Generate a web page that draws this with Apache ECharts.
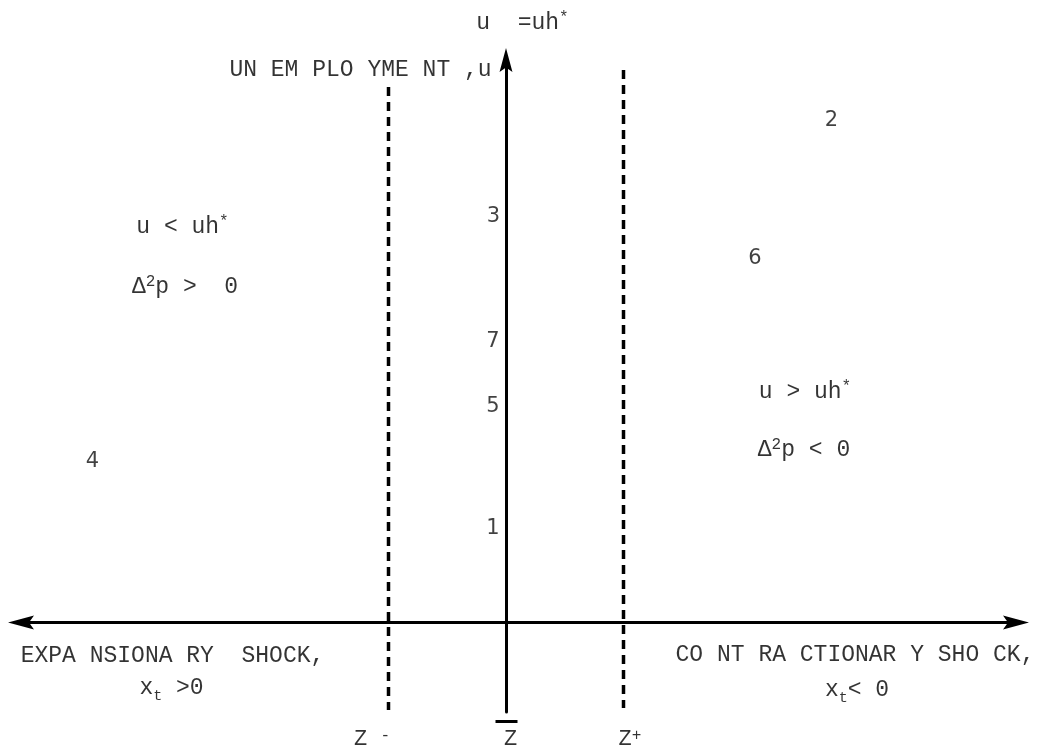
<!DOCTYPE html>
<html>
<head>
<meta charset="utf-8">
<script src="https://cdn.jsdelivr.net/npm/echarts@6/dist/echarts.min.js"></script>
</head>
<body style="margin:0;background:#fff">
<div id="chart" style="width:1037px;height:752px;"></div>
<script>

// numbered points
let pointNames = ['1', '2', '3', '4', '5', '6', '7'];
let pointX = [-0.26, 6.51, -0.25, -8.27, -0.26, 4.98, -0.26];
let pointY = [1.88, 10.04, 8.12, 3.22, 4.32, 7.28, 5.62];

// dashed thresholds Z- and Z+
let zMinusX = -2.35;
let zPlusX = 2.35;
let zMinusSpan = [10.71, -1.75];
let zPlusSpan = [11.05, -1.71];

// bar over Z
let zBarX = [-0.21, 0.23];
let zBarY = -1.98;

// text notes
let noteText = [
    '{m|u  =uh}{sup|*}',
    '{m|UN EM PLO YME NT ,u}',
    '{m|u < uh}{sup|*}',
    '{m|Δ}{sup|2}{m|p >  0}',
    '{m|u > uh}{sup|*}',
    '{m|Δ}{sup|2}{m|p < 0}',
    '{m|EXPA NSIONA RY  SHOCK,}',
    '{xm|x}{sub|t}{xm| >0}',
    '{m|CO NT RA CTIONAR Y SHO CK,}',
    '{xm|x}{sub|t}{xm|< 0}',
    '{z|Z }{sup|-}',
    '{z|Z}',
    '{z|Z}{sup|+}'
];
let noteX = [0.33, -2.91, -6.47, -6.42, 5.98, 5.96, -6.67, -6.69, 6.98, 7.02, -2.68, 0.09, 2.48];
let noteY = [12.0, 11.05, 7.92, 6.71, 4.61, 3.45, -0.67, -1.31, -0.64, -1.35, -2.34, -2.34, -2.34];

const mono = "'Courier New','Liberation Mono',monospace";
const ink = '#000';

let chart = echarts.init(document.getElementById('chart'));

let rich = {
    m: {fontFamily: mono, fontSize: 23, color: ink, lineHeight: 26},
    xm: {fontFamily: mono, fontSize: 23, color: ink, lineHeight: 32},
    sup: {fontFamily: mono, fontSize: 16, color: ink, lineHeight: 14, verticalAlign: 'top'},
    sub: {fontFamily: mono, fontSize: 15, color: ink, lineHeight: 14, verticalAlign: 'bottom'},
    z: {fontFamily: mono, fontSize: 22, color: ink, lineHeight: 24}
};

let pointData = pointNames.map((n, i) => ({name: n, value: [pointX[i], pointY[i]]}));
let noteData = noteText.map((t, i) => ({
    value: [noteX[i], noteY[i]],
    label: {formatter: t}
}));

let arrowPath = 'path://M0,0L7,26L0,21L-7,26Z';

let option = {
    animation: false,
    backgroundColor: '#fff',
    grid: {left: 21, right: 21, top: 60, bottom: 40},
    xAxis: {
        type: 'value',
        min: -9.7,
        max: 10.2,
        axisLine: {
            show: true,
            onZero: true,
            symbol: [arrowPath, arrowPath],
            symbolSize: [15, 26],
            lineStyle: {color: '#000', width: 3}
        },
        axisTick: {show: false},
        axisLabel: {show: false},
        splitLine: {show: false}
    },
    yAxis: {
        type: 'value',
        min: -1.79,
        max: 11.25,
        axisLine: {
            show: true,
            onZero: true,
            symbol: ['none', arrowPath],
            symbolSize: [14, 24],
            lineStyle: {color: '#000', width: 3}
        },
        axisTick: {show: false},
        axisLabel: {show: false},
        splitLine: {show: false}
    },
    series: [
        {
            type: 'line',
            clip: false,
            symbol: 'none',
            data: [[zMinusX, zMinusSpan[0]], [zMinusX, zMinusSpan[1]]],
            lineStyle: {color: '#000', width: 3.5, type: [9, 6]}
        },
        {
            type: 'line',
            clip: false,
            symbol: 'none',
            data: [[zPlusX, zPlusSpan[0]], [zPlusX, zPlusSpan[1]]],
            lineStyle: {color: '#000', width: 3.5, type: [9, 6]}
        },
        {
            type: 'line',
            clip: false,
            symbol: 'none',
            data: [[zBarX[0], zBarY], [zBarX[1], zBarY]],
            lineStyle: {color: '#000', width: 3}
        },
        {
            type: 'scatter',
            clip: false,
            symbolSize: 1,
            itemStyle: {color: 'rgba(0,0,0,0)'},
            data: pointData,
            label: {
                show: true,
                position: 'inside',
                formatter: '{b}',
                fontFamily: "'DejaVu Sans',sans-serif",
                fontSize: 21,
                color: '#111'
            }
        },
        {
            type: 'scatter',
            clip: false,
            symbolSize: 1,
            itemStyle: {color: 'rgba(0,0,0,0)'},
            data: noteData,
            label: {
                show: true,
                position: 'inside',
                color: ink,
                rich: rich
            }
        }
    ]
};

chart.setOption(option);

</script>
</body>
</html>
